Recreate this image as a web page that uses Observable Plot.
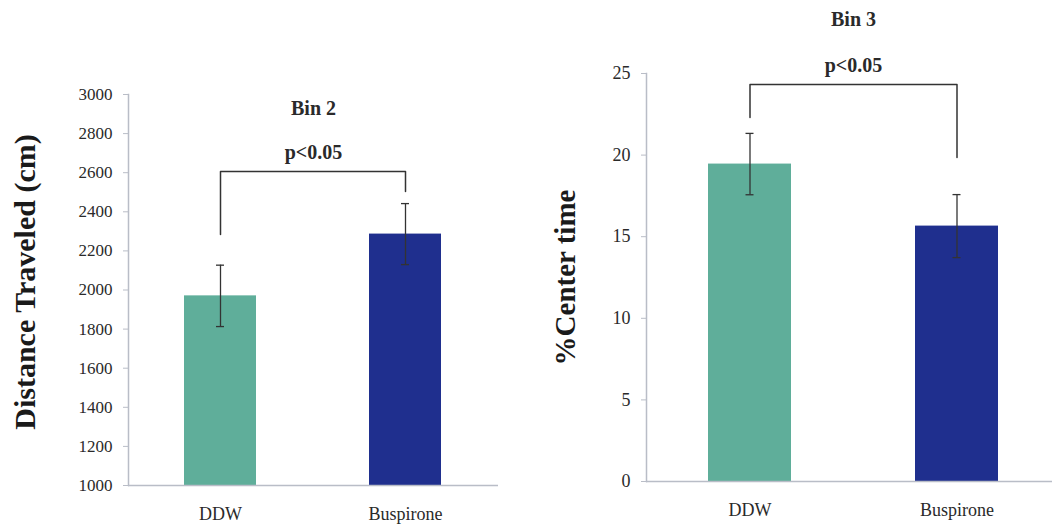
<!DOCTYPE html>
<html>
<head>
<meta charset="utf-8">
<script src="https://cdn.jsdelivr.net/npm/d3@7"></script>
<script src="https://cdn.jsdelivr.net/npm/@observablehq/plot@0.6"></script>
<style>
  html, body { margin: 0; padding: 0; background: #fff; }
  #wrap { position: relative; width: 1052px; height: 524px; overflow: hidden; }
  #left, #right { position: absolute; top: 0; }
  #left { left: 0; }
  #right { left: 530px; }
  svg { overflow: visible; }
  #wrap svg, #wrap svg text { font-family: "Liberation Serif", "DejaVu Serif", serif !important; }
</style>
</head>
<body>
<div id="wrap"><div id="left"></div><div id="right"></div></div>
<script>
// ---- data ----
const groups = ["DDW", "Buspirone"];
const barColors = ["#5fae9a", "#1f2f8e"];

// Panel 1: Bin 2, Distance traveled (cm)
const distMean = [1970, 2286];
const distSem = [157, 156];
const distTicks = [1000, 1200, 1400, 1600, 1800, 2000, 2200, 2400, 2600, 2800, 3000];
const distBracketX = ["DDW", "DDW", "Buspirone", "Buspirone"];
const distBracketY = [2284, 2606, 2606, 2504];
const distTitle = "Bin 2";
const distTitleY = 2928;
const distPLabelY = 2703;

// Panel 2: Bin 3, % Center time
const centerMean = [19.45, 15.65];
const centerSem = [1.88, 1.93];
const centerTicks = [0, 5, 10, 15, 20, 25];
const centerBracketX = ["DDW", "DDW", "Buspirone", "Buspirone"];
const centerBracketY = [22.3, 24.33, 24.33, 19.85];
const centerTitle = "Bin 3";
const centerTitleY = 28.3;
const centerPLabelY = 25.5;

const pLabel = "p<0.05";
const serif = "Liberation Serif, DejaVu Serif, serif";
const axisGray = "#b9bdc7";
const ink = "#2a2a2a";

function panel({width, marginLeft, marginRight, marginTop, marginBottom, domain, ticks,
                mean, sem, bracketX, bracketY, title, titleY, pY, yLabel, labelDx, labelDy, labelFont,
                paddingInner, paddingOuter, capInset, tickFont}) {
  const rows = groups.map((g, i) => ({g, m: mean[i], lo: mean[i] - sem[i], hi: mean[i] + sem[i], c: barColors[i]}));
  const bracket = bracketX.map((x, i) => ({x, y: bracketY[i]}));
  return Plot.plot({
    width, height: 524,
    marginLeft, marginRight, marginTop, marginBottom,
    style: {fontFamily: serif, background: "transparent", overflow: "visible"},
    x: {domain: groups, paddingInner, paddingOuter, label: null},
    y: {domain, label: null},
    marks: [
      Plot.barY(rows, {x: "g", y1: domain[0], y2: "m", fill: "c"}),
      Plot.frame({anchor: "left", stroke: axisGray, strokeWidth: 1.5}),
      Plot.ruleY([domain[0]], {stroke: axisGray, strokeWidth: 1.5}),
      Plot.axisY({ticks, tickSize: 5, tickPadding: 11, stroke: axisGray, fill: ink,
                  fontSize: tickFont, label: null, tickFormat: d => String(d)}),
      Plot.axisX({tickSize: 0, tickPadding: 22, fill: ink, fontSize: 18, label: null}),
      Plot.ruleX(rows, {x: "g", y1: "lo", y2: "hi", stroke: "#333", strokeWidth: 1.3}),
      Plot.tickY(rows, {x: "g", y: "lo", stroke: "#333", strokeWidth: 1.3, insetLeft: capInset, insetRight: capInset}),
      Plot.tickY(rows, {x: "g", y: "hi", stroke: "#333", strokeWidth: 1.3, insetLeft: capInset, insetRight: capInset}),
      Plot.line(bracket, {x: "x", y: "y", stroke: "#333", strokeWidth: 1.5}),
      Plot.text([pLabel], {y: pY, text: d => d, fontSize: 20, fontWeight: "bold", fill: ink}),
      Plot.text([title], {y: titleY, text: d => d, fontSize: 20, fontWeight: "bold", fill: ink}),
      Plot.text([yLabel], {frameAnchor: "left", textAnchor: "middle", dx: labelDx, dy: labelDy, rotate: -90, text: d => d,
                 fontSize: labelFont, fontWeight: "bold", fill: "#1a1a1a"})
    ]
  });
}

document.getElementById("left").append(panel({
  width: 530, marginLeft: 128, marginRight: 32, marginTop: 94, marginBottom: 39,
  domain: [1000, 3000], ticks: distTicks, mean: distMean, sem: distSem,
  bracketX: distBracketX, bracketY: distBracketY, title: distTitle, titleY: distTitleY, pY: distPLabelY,
  yLabel: "Distance Traveled (cm)", labelDx: -103, labelDy: -8, labelFont: 30,
  paddingInner: 0.61, paddingOuter: 0.305, capInset: 32, tickFont: 17
}));

document.getElementById("right").append(panel({
  width: 522, marginLeft: 116, marginRight: -8, marginTop: 73, marginBottom: 43,
  domain: [0, 25], ticks: centerTicks, mean: centerMean, sem: centerSem,
  bracketX: centerBracketX, bracketY: centerBracketY, title: centerTitle, titleY: centerTitleY, pY: centerPLabelY,
  yLabel: "%Center time", labelDx: -81, labelDy: 0, labelFont: 29,
  paddingInner: 0.6, paddingOuter: 0.3, capInset: 37.5, tickFont: 18
}));
</script>
</body>
</html>
